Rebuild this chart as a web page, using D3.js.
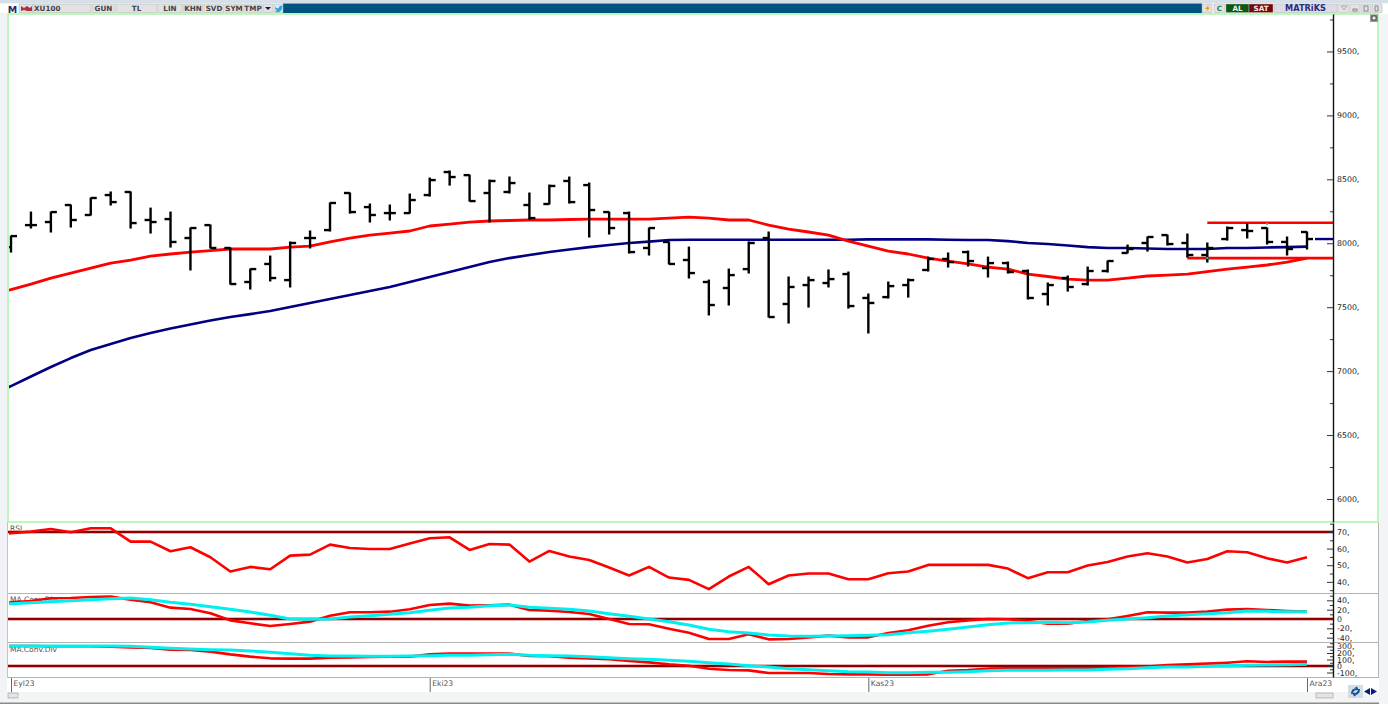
<!DOCTYPE html>
<html><head><meta charset="utf-8">
<script src="https://cdn.jsdelivr.net/npm/d3@7"></script>
<style>html,body{margin:0;padding:0;background:#fff;overflow:hidden}svg{display:block}</style>
</head><body><div id="chart"></div>
<script>
const symbol = "XU100";
const toolbarLabels = ["GUN","TL","LIN","KHN","SVD","SYM","TMP"];
const monthLabels = ["Eyl23","Eki23","Kas23","Ara23"];
const monthIndex = [0,21,43,65];
const priceTicks = [6000,6500,7000,7500,8000,8500,9000,9500];
const priceMinor = [5750,6250,6750,7250,7750,8250,8750,9250,9750];
const rsiTicks = [40,50,60,70];
const rsiMinor = [35,45,55,65,75];
const macdTicks = [-40,-20,0,20,40];
const macdMinor = [-30,-10,10,30,50];
const maTicks = [-100,0,100,200,300];
const maMinor = [-50,50,150,250,350];

const open = [7970,8142,8166,8299,8221,8377,8401,8182,8189,8041,8142,7963,7697,7838,7712,8041,8103,8393,8283,8236,8236,8377,8557,8533,8393,8401,8299,8307,8487,8455,8244,8236,7963,8010,7869,7697,7650,7798,8041,7525,7673,7689,7759,7572,7579,7673,7791,7877,7931,7806,7845,7783,7603,7728,7681,7783,7924,8002,8064,8002,7908,8033,8103,8119,8010,8088];
const high = [8056,8244,8244,8299,8354,8401,8401,8275,8244,8119,8142,7963,7798,7900,8010,8096,8315,8393,8307,8299,8385,8510,8565,8533,8494,8518,8393,8455,8518,8471,8244,8244,8119,8010,7970,7712,7798,8010,8088,7736,7736,7791,7775,7603,7697,7720,7892,7924,7939,7892,7853,7791,7689,7744,7814,7861,7986,8049,8064,8072,8002,8127,8150,8119,8049,8088];
const low = [7931,8119,8088,8127,8221,8299,8119,8080,7970,7791,7963,7681,7642,7705,7658,7963,8096,8236,8166,8182,8236,8369,8455,8330,8166,8393,8189,8307,8315,8049,8072,7924,7908,7838,7728,7439,7517,7767,7423,7376,7501,7658,7493,7298,7572,7579,7783,7814,7822,7736,7767,7564,7517,7626,7673,7775,7924,7939,7986,7892,7853,8025,8041,7994,7908,7955];
const close = [8056,8142,8244,8182,8354,8322,8158,8166,8010,8119,7963,7681,7798,7728,8002,8041,8315,8244,8221,8236,8338,8494,8518,8330,8487,8471,8197,8448,8322,8260,8119,7931,8119,7838,7767,7517,7751,8002,7423,7658,7712,7720,7509,7533,7665,7712,7877,7853,7861,7845,7775,7572,7673,7658,7783,7861,7955,8049,7994,7908,7963,8119,8096,8010,7955,8033];

const maShort = [7595,7638,7681,7728,7767,7806,7845,7869,7900,7916,7931,7943,7955,7955,7955,7970,7978,8010,8041,8064,8080,8096,8135,8150,8166,8174,8178,8182,8182,8186,8189,8189,8189,8189,8197,8205,8197,8182,8182,8142,8111,8088,8064,8017,7978,7939,7916,7884,7861,7838,7814,7798,7759,7740,7720,7712,7712,7728,7744,7751,7759,7779,7798,7814,7830,7853,7884];
const maLong = [6810,6883,6958,7032,7102,7165,7212,7259,7298,7333,7364,7396,7423,7446,7470,7501,7533,7564,7595,7626,7658,7697,7736,7775,7814,7853,7884,7908,7931,7951,7970,7986,8002,8013,8025,8027,8028,8028,8028,8028,8028,8028,8028,8028,8030,8030,8030,8030,8028,8026,8025,8017,8002,7994,7982,7970,7963,7963,7959,7955,7955,7955,7963,7963,7967,7970,7974];

const levelUpper = 8160;
const levelLower = 7884;
const levelUpperStart = 60;
const levelLowerStart = 59;
const lastPriceLevel = 8033;
const handleIndex = [60,63];
const handleValue = [7884,8150];

const rsi = [68,69.2,70.2,71.8,69.8,72.2,72.2,64.2,64.2,58.4,60.8,54.8,46.2,49,47.6,55.8,56.4,62.4,60.4,59.8,59.8,63,66.2,66.8,59.2,62.8,62.4,52.2,58.6,55.2,53.2,48.6,43.8,49,42.6,41.2,35.6,43.2,49,38.6,43.8,45,45,41.6,41.6,45.2,46.2,50.2,50.2,50.2,50.2,48,42.2,45.8,45.8,49.8,52,55.2,57.2,55.2,51.6,53.8,58.4,57.8,54.2,51.6,54.8];
const macd = [31,35.7,38.6,44.3,45,47.1,47.9,41.4,35.7,24.3,21.4,12.1,-2.9,-9.3,-15,-10.7,-5.7,7.1,14.3,14.3,15.7,20.7,30,32.9,28.6,29.3,30.7,19.3,17.9,15,10.7,0,-10.7,-11.4,-20.7,-29.3,-42.9,-42.9,-32.9,-43.6,-42.9,-39.3,-35.7,-39.3,-39.3,-30,-24.3,-14.3,-7.1,-2.9,0,-0.7,-4.3,-10,-10,-4.3,-0.7,6.4,14.3,13.6,13.6,15.7,20,21.4,19.3,17.1,15.7];
const macdSignal = [31,32.9,35,37.1,39.3,41.4,43.6,45,41.4,35.7,31.4,26.4,20.7,15,7.9,0,-0.7,0,4.3,7.1,10,13.6,18.6,23.6,25,28.6,30,25,22.9,20.7,17.1,11.4,5.7,0,-5.7,-12.9,-22.1,-27.1,-30,-34.3,-36.4,-37.1,-36.4,-35.7,-35,-33.6,-29.3,-26.4,-22.1,-17.1,-12.1,-8.6,-7.9,-7.1,-7.9,-6.4,-2.9,0,2.9,6.4,9.3,11.4,13.6,17.1,16.4,15.7,15.7];
const maConv = [308,308,308,303,303,303,297,287,277,251,246,221,179,144,118,113,113,128,133,138,144,144,179,190,190,190,190,154,149,128,118,103,77,56,26,5,-41,-62,-67,-108,-108,-108,-123,-128,-128,-133,-133,-128,-72,-62,-41,-36,-36,-36,-36,-36,-26,-15,-10,15,26,36,51,72,62,67,67];
const maConvSignal = [308,308,308,308,308,308,308,303,287,272,262,251,246,231,210,190,164,154,154,149,149,154,159,164,164,174,179,164,159,154,144,128,113,103,87,72,51,31,5,-15,-41,-56,-72,-87,-92,-103,-103,-97,-97,-87,-72,-67,-67,-67,-62,-62,-51,-41,-26,-15,-15,-5,5,10,15,21,26];

const W = 1388, H = 706;
const svg = d3.select("#chart").append("svg").attr("width",W).attr("height",H);
const FONT = "'DejaVu Sans',Verdana,sans-serif";
const RED="#ff0000", CYAN="#00f0f0", NAVY="#000080", DARKRED="#8b0000";

const xL = 8, axisX = 1333, rightX = 1378;
const x = d3.scaleLinear().domain([0,65]).range([11,1307]);
const yP = d3.scaleLinear().domain([5820,9793]).range([522,14]);
const yR = d3.scaleLinear().domain([33.3,75.4]).range([593,523]);
const yM = d3.scaleLinear().domain([-49.3,55.7]).range([642,593]);
const yC = d3.scaleLinear().domain([-169,369]).range([677,642]);

// backgrounds
svg.append("rect").attr("width",W).attr("height",H).attr("fill","#fff");
svg.append("rect").attr("x",0).attr("y",0).attr("width",7).attr("height",704).attr("fill","#f1f3f6");
svg.append("rect").attr("x",7).attr("y",692).attr("width",W-7).attr("height",11).attr("fill","#f3f4f5");
svg.append("rect").attr("x",0).attr("y",702.5).attr("width",W).attr("height",1.5).attr("fill","#8a8a8a");
svg.append("rect").attr("x",1379).attr("y",14).attr("width",9).attr("height",690).attr("fill","#f3f4f6");

// clip paths
const defs = svg.append("defs");
[["cP",yP],["cR",yR],["cM",yM],["cC",yC]].forEach(([id,s])=>{
  const r=s.range();
  defs.append("clipPath").attr("id",id).append("rect").attr("x",xL+1).attr("y",r[1]).attr("width",axisX-xL-1).attr("height",r[0]-r[1]);
});

// panel labels (under lines)
const lab = (t,px,py)=>svg.append("text").attr("x",px).attr("y",py).attr("font-family",FONT).attr("font-size",7.5).attr("fill","#555").text(t);
lab("RSI",10,531); lab("MA Conv.Div",10,602); lab("MA.Conv.Div",10,652);

// separators and frame
[593,642,677].forEach(y=>svg.append("line").attr("x1",xL).attr("x2",rightX).attr("y1",y+0.5).attr("y2",y+0.5).attr("stroke","#b4b4b4").attr("stroke-width",1));
svg.append("line").attr("x1",rightX+0.5).attr("x2",rightX+0.5).attr("y1",522).attr("y2",678).attr("stroke","#b4b4b4");
svg.append("line").attr("x1",7.5).attr("x2",7.5).attr("y1",522).attr("y2",678).attr("stroke","#c4c4c4");
svg.append("rect").attr("x",8).attr("y",14).attr("width",rightX-8).attr("height",508).attr("fill","none").attr("stroke","#a6f5a6").attr("stroke-width",1.5);

// zero/threshold lines
const refs=[[yR,70],[yM,0],[yC,0]];
refs.forEach(([s,v])=>{
  svg.append("line").attr("x1",xL).attr("x2",axisX).attr("y1",s(v)).attr("y2",s(v)).attr("stroke","#e39a9a").attr("stroke-width",3.4);
  svg.append("line").attr("x1",xL).attr("x2",axisX).attr("y1",s(v)).attr("y2",s(v)).attr("stroke",DARKRED).attr("stroke-width",2.2);
});

// lines: each series holds one extra leading value, the session before the left edge
const idx = d3.range(66);
const lineIdx = d3.range(-1,66);
const draw=(vals,s,color,w,clip)=>{
  const l=d3.line().x(i=>x(i)).y(i=>s(vals[i+1])).curve(d3.curveLinear);
  svg.append("path").datum(lineIdx).attr("d",l).attr("fill","none").attr("stroke",color).attr("stroke-width",w).attr("stroke-linejoin","round").attr("clip-path",`url(#${clip})`);
};
svg.append("line").attr("x1",x(levelUpperStart)).attr("x2",axisX).attr("y1",yP(levelUpper)).attr("y2",yP(levelUpper)).attr("stroke",RED).attr("stroke-width",2.6);
svg.append("line").attr("x1",x(levelLowerStart)).attr("x2",axisX).attr("y1",yP(levelLower)).attr("y2",yP(levelLower)).attr("stroke",RED).attr("stroke-width",2.6);
draw(maLong,yP,NAVY,2.6,"cP");
draw(maShort,yP,RED,2.8,"cP");
svg.append("line").attr("x1",x(65)+8).attr("x2",axisX).attr("y1",yP(lastPriceLevel)).attr("y2",yP(lastPriceLevel)).attr("stroke",NAVY).attr("stroke-width",2.4);

// OHLC bars
const bars=svg.append("g").attr("stroke","#000").attr("stroke-width",2.4).attr("fill","none").attr("clip-path","url(#cP)");
idx.forEach(i=>{
  const g=bars.append("g");
  g.append("line").attr("x1",x(i)).attr("x2",x(i)).attr("y1",yP(high[i])-0.5).attr("y2",yP(low[i])+0.5);
  g.append("line").attr("x1",x(i)-6).attr("x2",x(i)).attr("y1",yP(open[i])).attr("y2",yP(open[i]));
  g.append("line").attr("x1",x(i)).attr("x2",x(i)+6).attr("y1",yP(close[i])).attr("y2",yP(close[i]));
});
handleIndex.forEach((d,k)=>svg.append("rect").attr("x",x(d)-1).attr("y",yP(handleValue[k])-1).attr("width",2).attr("height",2).attr("fill","#20d0d0"));

// indicators
draw(rsi,yR,RED,2.6,"cR");
draw(macd,yM,RED,2.6,"cM");
draw(macdSignal,yM,CYAN,3,"cM");
draw(maConv,yC,RED,2.6,"cC");
draw(maConvSignal,yC,CYAN,3,"cC");

// axes
const fmt=d=>d===0?"0":d+",";
const axisStyle=g=>{
  g.attr("font-family",FONT).attr("font-size",7.8);
  g.selectAll("path").attr("stroke","#111").attr("stroke-width",1.4);
  g.selectAll("line").attr("stroke","#333");
  g.selectAll("text").attr("fill","#222");
};
const ax=(s,major,minor)=>{
  const g=svg.append("g").attr("transform",`translate(${axisX},0)`);
  g.call(d3.axisRight(s).tickValues(minor).tickSizeInner(-3).tickSizeOuter(0).tickFormat(""));
  g.selectAll("path").remove();
  const g2=svg.append("g").attr("transform",`translate(${axisX},0)`);
  g2.call(d3.axisRight(s).tickValues(major).tickSizeInner(-6).tickSizeOuter(0).tickPadding(4).tickFormat(fmt));
  axisStyle(g); axisStyle(g2);
};
ax(yP,priceTicks,priceMinor);
ax(yR,rsiTicks,rsiMinor);
ax(yM,macdTicks,macdMinor);
ax(yC,maTicks,maMinor);

const xa=svg.append("g").attr("transform","translate(0,678)")
  .call(d3.axisBottom(x).tickValues(monthIndex).tickSize(14).tickPadding(0).tickFormat((d,i)=>monthLabels[i]));
xa.select("path").remove();
xa.selectAll("line").attr("stroke","#666").attr("stroke-width",1);
xa.selectAll("text").attr("text-anchor","start").attr("x",2).attr("y",8).attr("dy",0).attr("font-family",FONT).attr("font-size",7.6).attr("fill","#555");

// top toolbar
const tb=svg.append("g");
tb.append("rect").attr("x",0).attr("y",0).attr("width",W).attr("height",3.5).attr("fill","#d5dfe8");
tb.append("rect").attr("x",0).attr("y",3.5).attr("width",W).attr("height",9.5).attr("fill","#fff");
tb.append("rect").attr("x",283).attr("y",3.5).attr("width",919).attr("height",9.5).attr("fill","#00527f");
const cell=(x0,x1,t,col,bg,weight,size)=>{
  tb.append("rect").attr("x",x0).attr("y",4).attr("width",x1-x0).attr("height",8.5).attr("fill",bg||"#e2e2e2").attr("stroke","#b0b0b0").attr("stroke-width",0.5);
  if(t)tb.append("text").attr("x",(x0+x1)/2).attr("y",11).attr("text-anchor","middle").attr("font-family",FONT).attr("font-weight",weight||"bold").attr("font-size",size||7.2).attr("fill",col||"#444").text(t);
};
tb.append("text").attr("x",12.5).attr("y",12.5).attr("text-anchor","middle").attr("font-family",FONT).attr("font-weight","bold").attr("font-size",9.5).attr("fill","#1a2a6a").text("M");
cell(19,33,null);
tb.append("path").attr("d","M21 6l3 2 3-2v5l-3-1-3 1z M27 6l3 2 2-2v5h-5z").attr("fill","#b03040");
cell(33,91,null);
tb.append("text").attr("x",34).attr("y",11).attr("font-family",FONT).attr("font-weight","bold").attr("font-size",7.2).attr("fill","#444").text(symbol);
const tbEdges=[[92,115],[116,157],[158,182],[183,203],[204,224],[225,243],[244,262]];
toolbarLabels.forEach((t,k)=>cell(tbEdges[k][0],tbEdges[k][1],t));
cell(263,273,null);
tb.append("path").attr("d","M265 7h6l-3 3z").attr("fill","#0a1a60");
cell(274,283,null,null,"#d8e8f0");
tb.append("path").attr("d","M275 7q2 2 4 1q0-3 3-2l1 0l-1 1q0 4-3 5q-3 1-4-1q2 0 2-1q-2 0-2-3z").attr("fill","#2aa4e0");
cell(1202,1212,null);
tb.append("path").attr("d","M1209 4.5l-4 4.5h2.5l-1.5 3l4-4.5h-2.5z").attr("fill","#f09010");
cell(1214,1225,"C","#108060");
cell(1226,1249,"AL","#e8f8e8","#0b5a10");
cell(1249,1273,"SAT","#f8e8e8","#780808");
cell(1274,1337,"MATRiKS","#2b2b80","#dcdce4","bold",8.2);
[[1338,1349],[1350,1360],[1361,1371],[1372,1382]].forEach(e=>cell(e[0],e[1],null,null,"#e4e4e4"));
tb.append("path").attr("d","M1341 6h6l-3 4z").attr("fill","none").attr("stroke","#aaa");
tb.append("rect").attr("x",1353).attr("y",9).attr("width",4).attr("height",2).attr("fill","none").attr("stroke","#888");
tb.append("rect").attr("x",1364).attr("y",6).attr("width",4).attr("height",5).attr("fill","none").attr("stroke","#888");
tb.append("path").attr("d","M1375 6h3v5h-3z").attr("fill","none").attr("stroke","#888");
tb.append("rect").attr("x",1370).attr("y",14.5).attr("width",8).attr("height",7.5).attr("fill","#9a9a9a");
tb.append("rect").attr("x",1372).attr("y",16).attr("width",4).attr("height",4).attr("fill","#eee").attr("stroke","#222").attr("stroke-width",0.8);

// bottom widgets
const bt=svg.append("g");
bt.append("rect").attr("x",8).attr("y",693).attr("width",10).attr("height",5).attr("fill","#e4e4e4").attr("stroke","#999").attr("stroke-width",0.6);
bt.append("rect").attr("x",1316).attr("y",693).attr("width",17).attr("height",5).attr("fill","#e4e4e4").attr("stroke","#999").attr("stroke-width",0.6);
bt.append("rect").attr("x",1348).attr("y",685).attr("width",15).attr("height",13).attr("fill","#d4dce4");
bt.append("path").attr("d","M1352 694q0-5 5-5l-1-2 M1359 689q0 5-5 5l1 2").attr("fill","none").attr("stroke","#14529a").attr("stroke-width",2);
bt.append("path").attr("d","M1364 691.5l6-3.5v7z").attr("fill","#0a1a80");
bt.append("path").attr("d","M1377 691.5l-6-3.5v7z").attr("fill","#0a1a80");
</script></body></html>
